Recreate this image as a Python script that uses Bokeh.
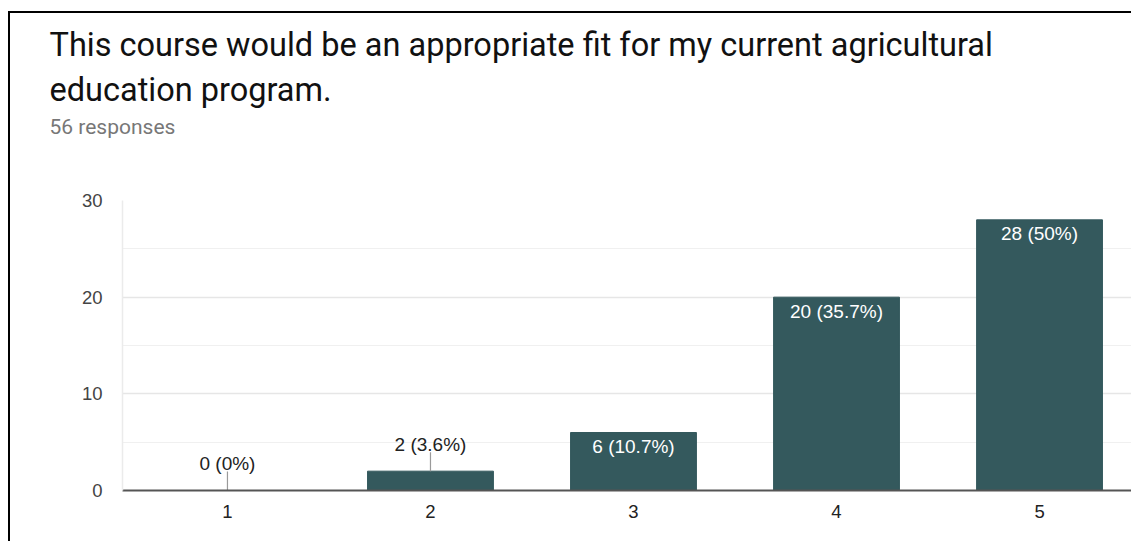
from bokeh.plotting import figure
from bokeh.models import (Range1d, FixedTicker, SingleIntervalTicker, Title,
                          LinearAxis, ColumnDataSource, InlineStyleSheet)
from bokeh.core.properties import value
from bokeh.embed import file_html
from bokeh.resources import INLINE

# Survey answers on a 1-5 scale and the number of responses for each
ratings = [1, 2, 3, 4, 5]
counts = [0, 2, 6, 20, 28]
total_responses = 56
rating_labels = ["1", "2", "3", "4", "5"]

title_line1 = "This course would be an appropriate fit for my current agricultural"
title_line2 = "education program."
subtitle = f"{total_responses} responses"

BAR_COLOR = "#34595d"
W, H = 1131, 541
FRAME_LEFT, FRAME_TOP, FRAME_BOTTOM = 122, 200, 490   # canvas pixels
TEXT_LEFT = 49


def pct_text(c):
    pct = round(100.0 * c / total_responses, 1)
    s = f"{pct:.1f}".rstrip("0").rstrip(".")
    return f"{c} ({s}%)"


labels = [pct_text(c) for c in counts]
inside = [c >= 5 for c in counts]

src_in = ColumnDataSource(dict(
    x=[r for r, k in zip(ratings, inside) if k],
    y=[c for c, k in zip(counts, inside) if k],
    t=[t for t, k in zip(labels, inside) if k],
))
src_out = ColumnDataSource(dict(
    x=[r for r, k in zip(ratings, inside) if not k],
    y=[c for c, k in zip(counts, inside) if not k],
    t=[t for t, k in zip(labels, inside) if not k],
))

# card frame drawn on top of the canvas (left and top edges)
card = InlineStyleSheet(css="""
:host { position: relative; }
:host::after {
  content: "";
  position: absolute;
  left: 8px; top: 11px; right: 0; bottom: 0;
  border-left: 2.5px solid #000;
  border-top: 2.5px solid #000;
  pointer-events: none;
}
""")

p = figure(width=W, height=H, output_backend="svg", toolbar_location=None,
           x_range=Range1d(0.483, 5.453), y_range=Range1d(0, 30),
           min_border_left=FRAME_LEFT, min_border_right=0,
           min_border_top=FRAME_TOP, min_border_bottom=H - FRAME_BOTTOM,
           stylesheets=[card])
p.outline_line_color = None
p.background_fill_color = "white"
p.border_fill_color = "white"

p.vbar(x=ratings, top=counts, width=0.62, color=BAR_COLOR)

LABEL_FONT = value("Liberation Sans")
# leader lines and labels for short bars
p.ray(x="x", y="y", source=src_out, length=19, length_units="screen",
      angle=90, angle_units="deg", line_color="#9a9a9a", line_width=1.2)
p.text(x="x", y="y", text="t", source=src_out, y_offset=-27,
       text_align="center", text_baseline="middle",
       text_font=LABEL_FONT, text_font_size="19px", text_color="#222222")
# labels inside tall bars
p.text(x="x", y="y", text="t", source=src_in, y_offset=14,
       text_align="center", text_baseline="middle",
       text_font=LABEL_FONT, text_font_size="19px", text_color="white")

# axes
p.xaxis.ticker = FixedTicker(ticks=ratings)
p.xaxis.major_label_overrides = {r: l for r, l in zip(ratings, rating_labels)}
p.xaxis.axis_line_color = "#555555"
p.xaxis.axis_line_width = 2
p.xaxis.major_tick_line_color = None
p.xaxis.minor_tick_line_color = None
p.xaxis.major_label_standoff = 8
p.xaxis.major_label_text_font = "Liberation Sans"
p.xaxis.major_label_text_font_size = "18.5px"
p.xaxis.major_label_text_color = "#222222"

p.yaxis.ticker = SingleIntervalTicker(interval=10, num_minor_ticks=2)
p.yaxis.axis_line_color = "#ebebeb"
p.yaxis.axis_line_width = 1.5
p.yaxis.major_tick_line_color = None
p.yaxis.minor_tick_line_color = None
p.yaxis.major_label_standoff = 14
p.yaxis.major_label_text_font = "Liberation Sans"
p.yaxis.major_label_text_font_size = "18.5px"
p.yaxis.major_label_text_color = "#444444"

p.xgrid.grid_line_color = None
p.ygrid.ticker = SingleIntervalTicker(interval=10, num_minor_ticks=2)
p.ygrid.grid_line_color = "#e6e6e6"
p.ygrid.grid_line_width = 1.5
p.ygrid.minor_grid_line_color = "#f0f0f0"
p.ygrid.minor_grid_line_width = 1.2

# unlabeled top axis with long white ticks: keeps a blank band under the headings
gap = LinearAxis(ticker=FixedTicker(ticks=ratings), axis_line_color=None,
                 major_tick_line_color="white", minor_tick_line_color=None,
                 major_tick_in=0, major_tick_out=62, minor_tick_in=0,
                 minor_tick_out=0, major_label_standoff=0,
                 major_label_overrides={r: "" for r in ratings},
                 major_label_text_font_size="0px")
p.add_layout(gap, "above")

# headings stacked above the blank band: first added sits closest to the frame
for text, size, color, standoff in [
    (subtitle, "21px", "#777777", 0),
    (title_line2, "32.5px", "#111111", 8),
    (title_line1, "32.5px", "#111111", 2),
]:
    p.add_layout(Title(text=text, align="left", offset=TEXT_LEFT - FRAME_LEFT,
                       text_font="Roboto", text_font_size=size,
                       text_font_style="normal", text_color=color,
                       standoff=standoff), "above")

open("out.html", "w").write(file_html(p, INLINE))
